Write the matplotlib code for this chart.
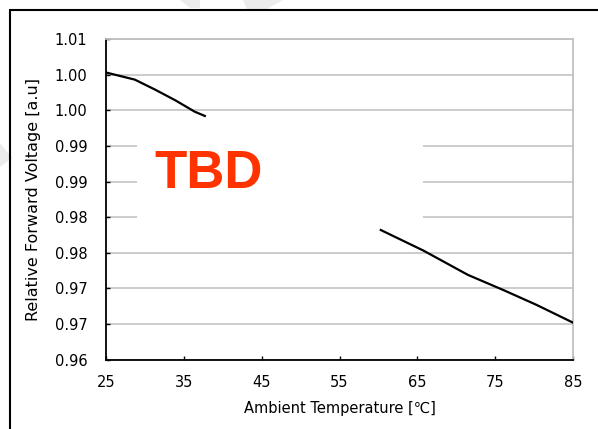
import numpy as np
import matplotlib.pyplot as plt
from matplotlib.patches import Rectangle, Polygon

plt.rcParams["font.family"] = ["DejaVu Sans", "Noto Sans CJK KR"]

# readings from the chart (visible parts of the curve)
temp_low = [25.0, 28.7, 31.3, 33.9, 36.4, 37.7]
volt_low = [1.0053, 1.0043, 1.0029, 1.0014, 0.9998, 0.9992]
temp_high = [60.3, 65.8, 71.5, 76.0, 80.3, 85.0]
volt_high = [0.9832, 0.9803, 0.9769, 0.9748, 0.9727, 0.9702]

x_ticks = [25, 35, 45, 55, 65, 75, 85]
y_ticks = [0.965, 0.970, 0.975, 0.980, 0.985, 0.990, 0.995, 1.000, 1.005, 1.010]
y_labels = ["0.96", "0.97", "0.97", "0.98", "0.98", "0.99", "0.99", "1.00", "1.00", "1.01"]

W, H = 598, 429
fig = plt.figure(figsize=(W / 100, H / 100), dpi=100)

# faint watermark pieces (pixel coords, y from top)
for pts in [[(180, 0), (200, 0), (200, 8), (190, 8)],
            [(243, 0), (283, 0), (267, 9), (247, 9)],
            [(0, 143), (12, 158), (0, 167)]]:
    fig.add_artist(Polygon([(px / W, 1 - py / H) for px, py in pts], closed=True,
                           transform=fig.transFigure, facecolor="#ececec",
                           edgecolor="none", zorder=0))

ax = fig.add_axes([106 / W, 1 - 359.7 / H, 467 / W, 320.7 / H])
ax.patch.set_alpha(0)

ax.plot(temp_low, volt_low, color="black", lw=1.6, zorder=3)
ax.plot(temp_high, volt_high, color="black", lw=1.6, zorder=3)

ax.set_xlim(25, 85)
ax.set_ylim(0.965, 1.010)
ax.set_xticks(x_ticks)
ax.set_yticks(y_ticks)
ax.set_yticklabels(y_labels)

ax.grid(axis="y", color="#c8c8c8", lw=1.3)
ax.set_axisbelow(True)

for s in ["left", "bottom"]:
    ax.spines[s].set_color("black")
    ax.spines[s].set_linewidth(1.3)
for s in ["top", "right"]:
    ax.spines[s].set_color("#c0c0c0")
    ax.spines[s].set_linewidth(1.3)

ax.tick_params(axis="x", direction="in", length=3, width=1, pad=11, labelsize=10.5, colors="black")
ax.tick_params(axis="y", direction="in", length=3, width=1, pad=13.5, labelsize=10.5, colors="black")

ax.set_xlabel("Ambient Temperature [\u2103]", fontsize=10.5, labelpad=8)
ax.set_ylabel("Relative Forward Voltage [a.u]", fontsize=11.5, labelpad=10)

# white box hiding the middle part, with TBD note
ax.add_patch(Rectangle((31 / 467, (359.7 - 228) / 320.7), (423 - 137) / 467, 111 / 320.7,
                       transform=ax.transAxes, facecolor="white", edgecolor="none", zorder=2.5))
fig.text(209 / W, 1 - 174 / H, "TBD", color="#ff3300", fontsize=38, fontweight="bold",
         family="Liberation Sans", ha="center", va="center")

# outer frame
fig.add_artist(Rectangle((10 / W, -0.1), 1.2, 1.1 - 10 / H, transform=fig.transFigure,
                         fill=False, edgecolor="black", lw=1.5))

fig.savefig("out.png", dpi=100)
